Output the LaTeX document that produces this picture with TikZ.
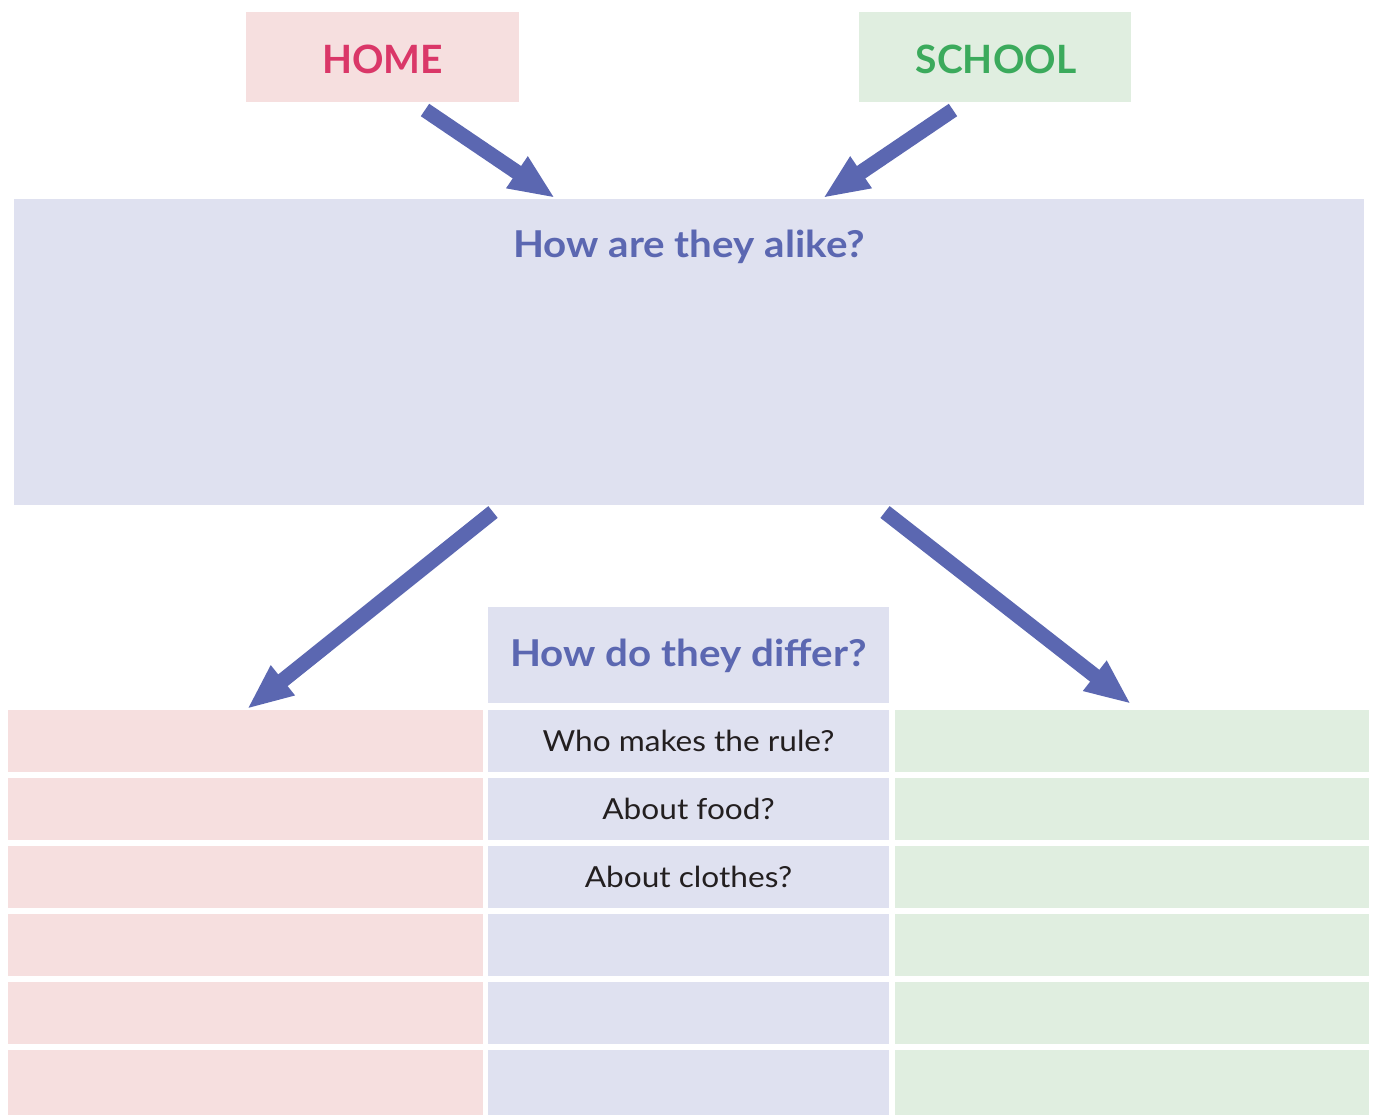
\documentclass[tikz,border=0pt]{standalone}
\usepackage{graphicx}
\usepackage{fontspec}
\setmainfont{Lato}
\usetikzlibrary{arrows.meta,calc}
\definecolor{pinkfill}{HTML}{F6DFDF}
\definecolor{greenfill}{HTML}{E0EEE0}
\definecolor{lavfill}{HTML}{DFE1F0}
\definecolor{arrowblue}{HTML}{5B67B1}
\definecolor{homered}{HTML}{DA3768}
\definecolor{schoolgreen}{HTML}{3BAA5C}
\definecolor{bodytext}{HTML}{231F20}
\newcommand{\hwide}[1]{\scalebox{1.09}[1]{#1}}
\tikzset{
  box/.style={inner sep=0pt, outer sep=0pt, draw=none},
  pinkcell/.style={box, fill=pinkfill, minimum width=475pt, minimum height=62pt},
  midcell/.style={box, fill=lavfill, minimum width=401pt, minimum height=62pt,
    font=\fontsize{29}{33}\selectfont, text=bodytext},
  greencell/.style={box, fill=greenfill, minimum width=474pt, minimum height=62pt},
  lastrow/.style={minimum height=65pt},
  toplabel/.style={box, minimum width=273pt, minimum height=90pt},
  toptext/.style={inner sep=0pt, font=\fontsize{39}{44}\selectfont\bfseries},
  heading/.style={font=\fontsize{37}{42}\selectfont\bfseries, text=arrowblue, inner sep=0pt},
  bigarrow/.style={draw=arrowblue, line width=15pt,
    -{Triangle[length=46pt, width=35pt]}}
}
\begin{document}
\begin{tikzpicture}[x=1pt,y=-1pt]
\useasboundingbox (0,0) rectangle (1375,1115);
% top labels
\node[toplabel, fill=pinkfill] (home) at (382.5,57) {};
\node[toptext, text=homered] (hometext) at (382.5,59) {HOME};
\node[toplabel, fill=greenfill, minimum width=272pt] (school) at (995,57) {};
\node[toptext, text=schoolgreen] (schooltext) at (996,59) {SCHOOL};
% alike box
\node[box, fill=lavfill, minimum width=1350pt, minimum height=306pt] (alikebox) at (689,352) {};
\node[heading] (alike) at (689,247) {\hwide{How are they alike?}};
% differ header
\node[box, fill=lavfill, minimum width=401pt, minimum height=96pt] (differbox) at (688.5,655) {};
\node[heading] (differ) at (688.5,656) {\hwide{How do they differ?}};
% table rows
\foreach \i/\t in {1/Who makes the rule?,2/About food?,3/About clothes?,4/,5/}{
  \pgfmathsetmacro{\yc}{710+68*(\i-1)+31}
  \node[pinkcell] (L\i) at (245.5,\yc) {};
  \node[midcell] (M\i) at (688.5,\yc) {\hwide{\t}};
  \node[greencell] (R\i) at (1132,\yc) {};
}
\node[pinkcell, lastrow] (L6) at (245.5,1082.5) {};
\node[midcell, lastrow] (M6) at (688.5,1082.5) {};
\node[greencell, lastrow] (R6) at (1132,1082.5) {};
% arrows
\draw[bigarrow] ([shift={(42.5,8)}]home.south) -- ([shift={(-134,-1)}]alikebox.north);
\draw[bigarrow] ([shift={(-42,8)}]school.south) -- ([shift={(134,-1)}]alikebox.north);
\draw[bigarrow] ([shift={(-196,7)}]alikebox.south) -- ([shift={(1.5,-1)}]L1.north);
\draw[bigarrow] ([shift={(196,7)}]alikebox.south) -- ([shift={(-1,-6)}]R1.north);
\end{tikzpicture}
\end{document}
